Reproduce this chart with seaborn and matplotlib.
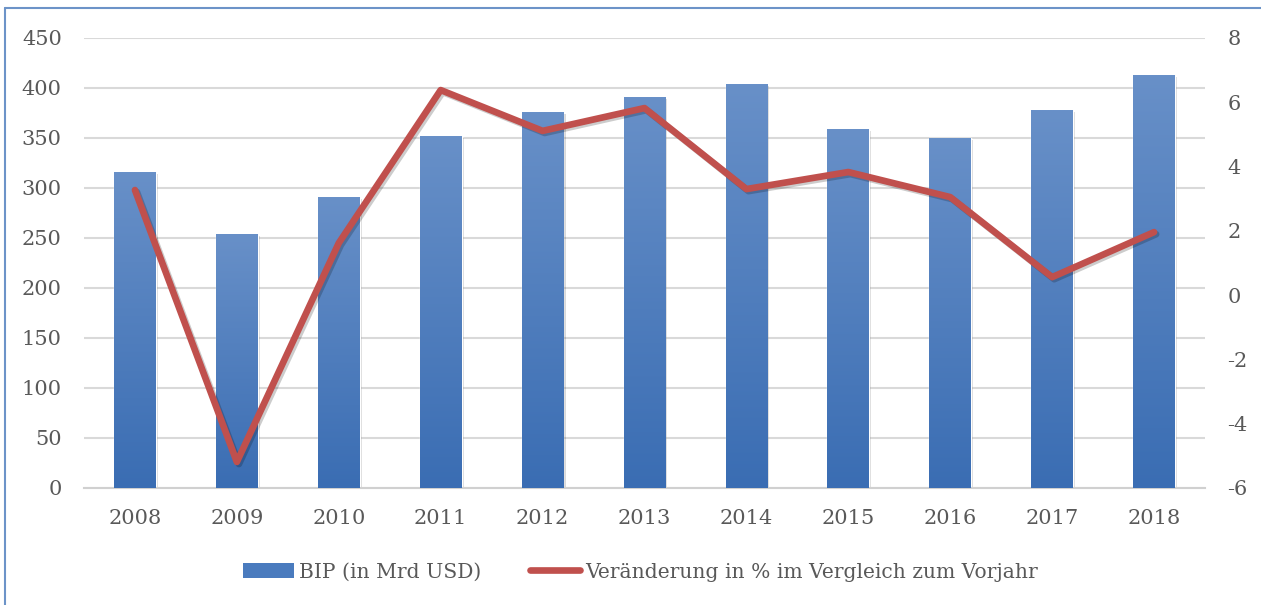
import numpy as np
import pandas as pd
import matplotlib
matplotlib.use('Agg')
import matplotlib.pyplot as plt
import matplotlib.patheffects as pe
from matplotlib.patches import Patch
from matplotlib.lines import Line2D
import seaborn as sns

# Daten
years = ['2008', '2009', '2010', '2011', '2012', '2013', '2014', '2015', '2016', '2017', '2018']
bip = [316, 254, 291, 352, 376, 391, 404, 359, 350, 378, 413]
change = [3.27, -5.19, 1.62, 6.38, 5.11, 5.82, 3.30, 3.83, 3.05, 0.56, 1.96]

df = pd.DataFrame({'year': years, 'bip': bip, 'change': change})

sns.set_style('white')
plt.rcParams['font.family'] = ['DejaVu Serif']
plt.rcParams['axes.unicode_minus'] = False
text_col = '#595959'
fs = 15

fig = plt.figure(figsize=(12.61, 6.05), dpi=100)
ax = fig.add_axes([0.0666, 0.1934, 0.889, 0.7438])

sns.barplot(data=df, x='year', y='bip', color='#4F81BD', width=0.41, ax=ax,
            saturation=1, zorder=2)

# Farbverlauf in den Balken
grad = np.linspace(0, 1, 256).reshape(-1, 1)
cmap = matplotlib.colors.LinearSegmentedColormap.from_list('b', ['#3A6DB3', '#6890C8'])
for p in ax.patches:
    x0, y0 = p.get_x(), p.get_y()
    w, h = p.get_width(), p.get_height()
    p.set_path_effects([pe.SimplePatchShadow(offset=(1.5, -1.5), alpha=0.15, shadow_rgbFace='k'), pe.Normal()])
    im = ax.imshow(grad, extent=(x0, x0 + w, y0, y0 + h), origin='lower', cmap=cmap,
                   aspect='auto', zorder=3)
    im.set_clip_path(p)

ax.set_xlim(-0.5, len(years) - 0.5)
ax.set_ylim(0, 450)
ax.set_yticks(range(0, 451, 50))
ax.yaxis.grid(True, color='#D9D9D9', linewidth=1.5)
ax.set_axisbelow(True)
for s in ['top', 'right', 'left']:
    ax.spines[s].set_visible(False)
ax.spines['bottom'].set_color('#D0D0D0')
ax.spines['bottom'].set_linewidth(1.5)
ax.set_xlabel('')
ax.set_ylabel('')
ax.tick_params(axis='x', length=0, labelsize=fs, colors=text_col, pad=15)
ax.tick_params(axis='y', length=0, labelsize=fs, colors=text_col, pad=16)

ax2 = ax.twinx()
sns.lineplot(x=np.arange(len(years)), y=change, color='#C0504D', linewidth=4.8, ax=ax2,
             zorder=5, path_effects=[pe.SimpleLineShadow(offset=(1.5, -1.5), alpha=0.2), pe.Normal()])
ax2.set_ylim(-6, 8)
ax2.set_yticks(range(-6, 9, 2))
for s in ax2.spines.values():
    s.set_visible(False)
ax2.tick_params(axis='y', length=0, labelsize=fs, colors=text_col, pad=16)
ax2.set_ylabel('')

handles = [Patch(facecolor='#4A7BBE', edgecolor='none'),
           Line2D([0], [0], color='#C0504D', linewidth=4.8, solid_capstyle='round')]
labels = ['BIP (in Mrd USD)', 'Veränderung in % im Vergleich zum Vorjahr']
fig.legend(handles, labels, loc='center', bbox_to_anchor=(0.508, 0.0545), ncol=2,
           frameon=False, fontsize=14.6, labelcolor=text_col, handlelength=2.5,
           handletextpad=0.25, columnspacing=2.4)

# Rahmen
bc = '#6C93C8'
fig.add_artist(Line2D([5 / 1261, 5 / 1261], [0, 1 - 8 / 605], color=bc, linewidth=1.5, transform=fig.transFigure))
fig.add_artist(Line2D([5 / 1261, 1], [1 - 8 / 605, 1 - 8 / 605], color=bc, linewidth=1.5, transform=fig.transFigure))

fig.savefig('out.png', dpi=100)
